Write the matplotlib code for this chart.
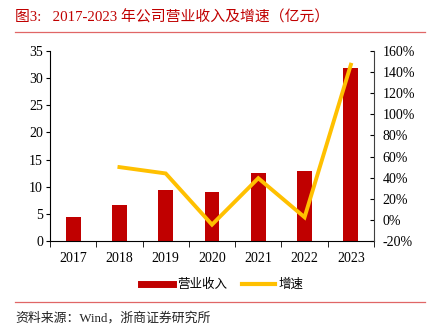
import numpy as np
import matplotlib
matplotlib.use("Agg")
import matplotlib.pyplot as plt
from matplotlib.lines import Line2D

plt.rcParams['font.family'] = ['Liberation Serif', 'Noto Sans CJK SC']
plt.rcParams['axes.unicode_minus'] = False

years = ['2017', '2018', '2019', '2020', '2021', '2022', '2023']
revenue = [4.4, 6.6, 9.4, 9.0, 12.5, 12.9, 31.9]
growth = [np.nan, 50, 44, -4.5, 39.5, 2.5, 147]

bar_color = '#C00000'
line_color = '#FFC000'

fig = plt.figure(figsize=(4.33, 3.35), dpi=100)
ax = fig.add_axes([50/433, 1-241/335, 324/433, 190/335])

x = np.arange(len(years))
ax.bar(x, revenue, width=0.32, color=bar_color, zorder=2)
ax.set_xlim(-0.5, len(years)-0.5)
ax.set_ylim(0, 35)
ax.set_yticks(np.arange(0, 36, 5))
ax.set_xticks(x)
ax.set_xticklabels(years)
ax.set_xticks(np.arange(-0.5, len(years), 1), minor=True)
ax.tick_params(axis='x', which='major', length=0, pad=8, labelsize=10)
ax.tick_params(axis='x', which='minor', length=4, direction='out')
ax.tick_params(axis='y', length=3, direction='out', labelsize=10, pad=2)
ax.spines['top'].set_visible(False)
ax.spines['right'].set_visible(False)

ax2 = ax.twinx()
ax2.plot(x, growth, color=line_color, lw=2.8, zorder=3, solid_joinstyle='miter')
ax2.set_ylim(-20, 160)
ax2.set_yticks(np.arange(-20, 161, 20))
ax2.set_yticklabels([f'{v}%' for v in range(-20, 161, 20)])
ax2.tick_params(axis='y', length=3, direction='in', labelsize=10, pad=6)
ax2.spines['top'].set_visible(False)
ax2.spines['left'].set_visible(False)
ax2.spines['bottom'].set_visible(False)
ax2.spines['right'].set_color('#404040')

# title and source
fig.text(15/433, 1-17/335, '图3:   2017-2023 年公司营业收入及增速（亿元）',
         fontsize=10.7, color='#C00000', va='center', ha='left')
fig.add_artist(Line2D([15/433, 425/433], [1-32/335, 1-32/335], color='#E06666', lw=0.9))
fig.add_artist(Line2D([15/433, 425/433], [1-302/335, 1-302/335], color='#E06666', lw=0.9))
fig.text(15/433, 1-318/335, '资料来源：Wind，浙商证券研究所',
         fontsize=9.3, color='#222222', va='center', ha='left')

handles = [Line2D([0], [0], color=bar_color, lw=5),
           Line2D([0], [0], color=line_color, lw=3)]
fig.legend(handles, ['营业收入', '增速'], loc='center', ncol=2,
           bbox_to_anchor=(222/433, 1-285/335), frameon=False, fontsize=9,
           handlelength=2.6, columnspacing=1.2, handletextpad=0.3)

fig.savefig('out.png', dpi=100)
